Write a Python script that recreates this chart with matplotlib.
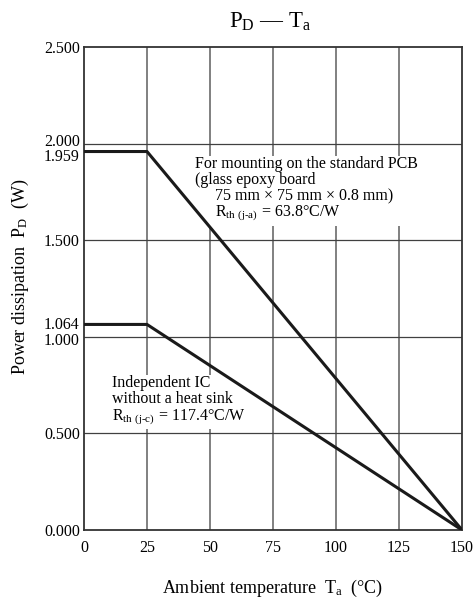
import numpy as np
import matplotlib
matplotlib.use("Agg")
import matplotlib.pyplot as plt
from matplotlib.transforms import ScaledTranslation

plt.rcParams['font.family'] = ['Liberation Serif', 'DejaVu Serif']
plt.rcParams['mathtext.fontset'] = 'custom'
plt.rcParams['mathtext.rm'] = 'Liberation Serif'
plt.rcParams['mathtext.it'] = 'Liberation Serif'

# data
temp = [0, 25, 150]
pd_pcb = [1.959, 1.959, 0.0]
pd_ic = [1.064, 1.064, 0.0]
xticks = [0, 25, 50, 75, 100, 125, 150]
ygrid = [0.0, 0.5, 1.0, 1.5, 2.0, 2.5]
yticks_extra = [1.064, 1.959]

fig = plt.figure(figsize=(4.77, 6.04), dpi=100)
ax = fig.add_axes([84/477, 1 - 530/604, 378/477, 483/604])

for x in xticks[1:-1]:
    ax.axvline(x, color='#808080', lw=1.4, zorder=1)
for y in ygrid[1:-1]:
    ax.axhline(y, color='#404040', lw=0.9, zorder=1)

ax.plot(temp, pd_pcb, color='#1a1a1a', lw=2.2, zorder=3)
ax.plot(temp, pd_ic, color='#1a1a1a', lw=2.2, zorder=3)

ax.set_xlim(0, 150)
ax.set_ylim(0, 2.5)
ax.set_xticks(xticks)
yt = sorted(ygrid + yticks_extra)
ax.set_yticks(yt)
ax.set_yticklabels(['%.3f' % v for v in yt])
ax.tick_params(axis='both', length=0, labelsize=11.5)
ax.tick_params(axis='y', pad=3)
ax.tick_params(axis='x', pad=7)

# nudge the crowded tick labels apart a little
shift = {'2.000': 4, '1.959': -3.5, '1.064': 1.5, '1.000': -2}
for lab, v in zip(ax.get_yticklabels(), yt):
    dy = shift.get('%.3f' % v, 0)
    if dy:
        lab.set_transform(lab.get_transform() + ScaledTranslation(0, dy/100, fig.dpi_scale_trans))

for s in ax.spines.values():
    s.set_color('#333333')
    s.set_linewidth(1.3)

box = dict(facecolor='white', edgecolor='none', pad=2)
ax.text(44.0, 1.935,
        "For mounting on the standard PCB\n(glass epoxy board\n"
        "     75 mm \u00d7 75 mm \u00d7 0.8 mm)\n"
        "     R$_{\\mathrm{th\\ (j\u2010a)}}$ = 63.8\u00b0C/W",
        fontsize=11.5, va='top', ha='left', linespacing=1.0,
        bbox=box, zorder=2)
ax.text(11.0, 0.80,
        "Independent IC\nwithout a heat sink\n"
        "R$_{\\mathrm{th\\ (j\u2010c)}}$ = 117.4\u00b0C/W",
        fontsize=11.5, va='top', ha='left', linespacing=1.0,
        bbox=box, zorder=2)

fig.text(270/477, 1 - 22/604, "P$_{\\mathrm{D}}$ \u2014 T$_{\\mathrm{a}}$",
         fontsize=16.5, ha='center', va='center')
fig.text(273/477, 1 - 588/604, "Ambient temperature  T$_{\\mathrm{a}}$  (\u00b0C)",
         fontsize=13, ha='center', va='center')
fig.text(20/477, 1 - 277/604, "Power dissipation  P$_{\\mathrm{D}}$  (W)",
         fontsize=13, ha='center', va='center', rotation=90)

fig.savefig("out.png", dpi=100)
